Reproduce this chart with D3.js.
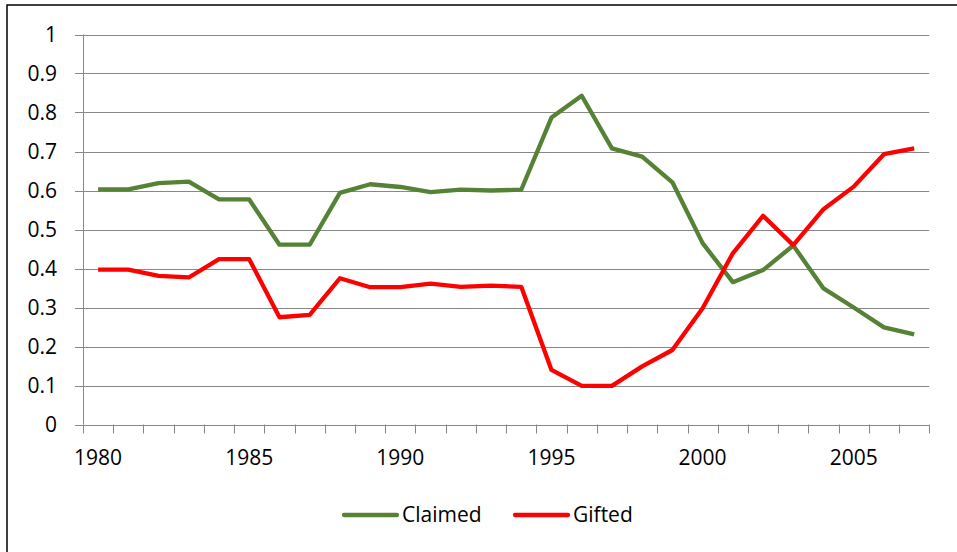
<!DOCTYPE html>
<html>
<head>
<meta charset="utf-8">
<script src="https://cdn.jsdelivr.net/npm/d3@7"></script>
<style>
  body { margin: 0; background: #fff; }
  svg text { font-family: "Open Sans", "Liberation Sans", sans-serif; fill: #000; }
</style>
</head>
<body>
<div id="chart"></div>
<script>
// years on the category axis
var years = d3.range(1980, 2008);
var yearLabels = [1980, 1985, 1990, 1995, 2000, 2005];
var yTicks = [0, 0.1, 0.2, 0.3, 0.4, 0.5, 0.6, 0.7, 0.8, 0.9, 1];

// series values
var claimed = [0.603, 0.603, 0.619, 0.623, 0.577, 0.577, 0.461, 0.461, 0.594, 0.616, 0.609, 0.596,
    0.602, 0.600, 0.602, 0.787, 0.843, 0.708, 0.687, 0.621, 0.465, 0.365, 0.396, 0.459,
    0.349, 0.300, 0.249, 0.231];
var gifted = [0.397, 0.397, 0.381, 0.377, 0.424, 0.424, 0.275, 0.281, 0.375, 0.352, 0.352, 0.361,
    0.353, 0.356, 0.353, 0.140, 0.099, 0.099, 0.149, 0.191, 0.298, 0.439, 0.535, 0.460,
    0.552, 0.610, 0.693, 0.708];

var seriesNames = ["Claimed", "Gifted"];
var seriesColors = ["#558235", "#ff0000"];

var width = 957, height = 552;
var plotLeft = 83, plotRight = 929.3, plotTop = 34.5, plotBottom = 424.5;

var svg = d3.select("#chart")
    .append("svg")
    .attr("width", width)
    .attr("height", height);

// chart border (runs off the right and bottom of the picture)
svg.append("rect")
    .attr("x", 7).attr("y", 5)
    .attr("width", 980).attr("height", 600)
    .attr("fill", "#fff")
    .attr("stroke", "#000")
    .attr("stroke-width", 1.5);

var x = d3.scaleBand()
    .domain(years)
    .range([plotLeft, plotRight])
    .padding(0);

var y = d3.scaleLinear()
    .domain([0, 1])
    .range([plotBottom, plotTop]);

var gridColor = "#888888";

// horizontal gridlines
svg.append("g")
    .selectAll("line")
    .data(yTicks)
    .enter().append("line")
    .attr("x1", plotLeft - 8)
    .attr("x2", plotRight)
    .attr("y1", function (d) { return Math.round(y(d)) + 0.5; })
    .attr("y2", function (d) { return Math.round(y(d)) + 0.5; })
    .attr("stroke", gridColor)
    .attr("stroke-width", 1);

// y axis
var yAxis = svg.append("g")
    .attr("transform", "translate(" + plotLeft + ",0)")
    .call(d3.axisLeft(y)
        .tickValues(yTicks)
        .tickSize(0)
        .tickPadding(26)
        .tickFormat(function (d) { return (d === 0 || d === 1) ? d : d.toFixed(1); }));
yAxis.select(".domain").attr("stroke", gridColor).attr("d", "M0.5," + plotTop + "V" + plotBottom);
yAxis.selectAll("text").style("font-size", "21px").attr("fill", "#000");

// x axis
var xAxis = svg.append("g")
    .attr("transform", "translate(0," + (Math.round(plotBottom) + 0.5) + ")")
    .call(d3.axisBottom(x)
        .tickValues(yearLabels)
        .tickSize(0)
        .tickPadding(25));
xAxis.select(".domain").attr("stroke", gridColor).attr("d", "M" + plotLeft + ",0H" + plotRight);
xAxis.selectAll("text").style("font-size", "21px").attr("fill", "#000");

// category boundary tick marks
var bounds = years.map(function (d) { return x(d); }).concat([plotRight]);
svg.append("g")
    .selectAll("line")
    .data(bounds)
    .enter().append("line")
    .attr("x1", function (d) { return Math.round(d) + 0.5; })
    .attr("x2", function (d) { return Math.round(d) + 0.5; })
    .attr("y1", plotBottom)
    .attr("y2", plotBottom + 9)
    .attr("stroke", gridColor);

// lines
var line = d3.line()
    .x(function (d, i) { return x(years[i]) + x.bandwidth() / 2; })
    .y(function (d) { return y(d); });

[claimed, gifted].forEach(function (vals, k) {
    svg.append("path")
        .datum(vals)
        .attr("fill", "none")
        .attr("stroke", seriesColors[k])
        .attr("stroke-width", 4.3)
        .attr("stroke-linejoin", "round")
        .attr("d", line);
});

// legend
var legendX = [344, 515];
var legend = svg.append("g");
seriesNames.forEach(function (name, k) {
    legend.append("line")
        .attr("x1", legendX[k]).attr("x2", legendX[k] + 53)
        .attr("y1", 515).attr("y2", 515)
        .attr("stroke", seriesColors[k])
        .attr("stroke-width", 4.3)
        .attr("stroke-linecap", "round");
    legend.append("text")
        .attr("x", legendX[k] + 58)
        .attr("y", 515)
        .attr("dy", "0.35em")
        .style("font-size", "21px")
        .text(name);
});
</script>
</body>
</html>
